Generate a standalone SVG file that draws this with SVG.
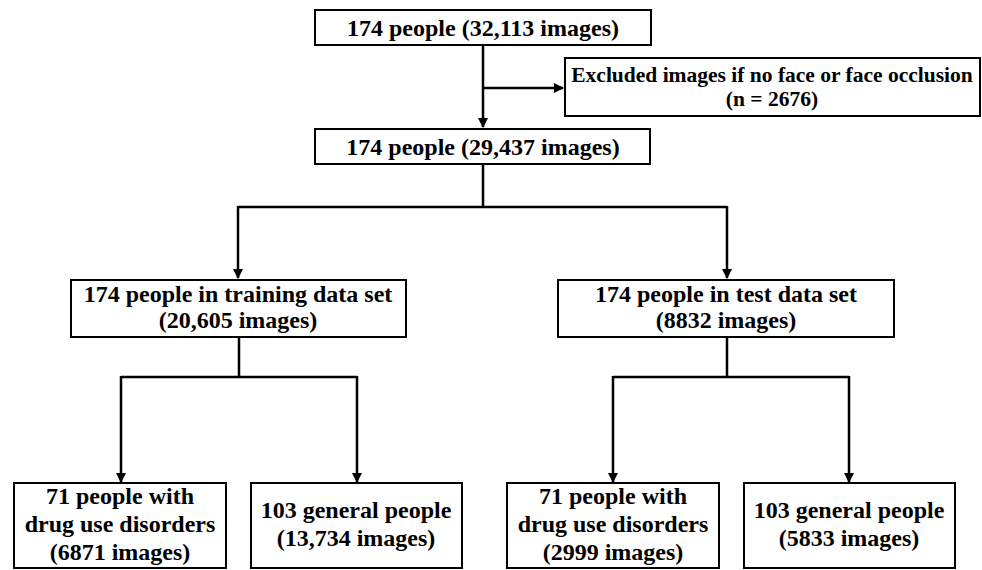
<svg xmlns="http://www.w3.org/2000/svg" width="982" height="570" viewBox="0 0 982 570">
<style>
.box{fill:#fff;stroke:#000;stroke-width:2}
text{font-family:'Liberation Serif','Times New Roman',Times,serif;font-weight:bold;font-size:24px;text-anchor:middle;fill:#000}
text.s{font-size:21.5px}
.c{fill:none;stroke:#000;stroke-width:2.5}
</style>
<defs>
<marker id="ah" markerWidth="10" markerHeight="10" refX="9" refY="5" orient="auto" markerUnits="userSpaceOnUse"><path d="M0,0 L10,5 L0,10 Z" fill="#000"/></marker>
</defs>
<rect width="982" height="570" fill="#fff"/>
<g id="connectors">
<path class="c" d="M483,45 V127" marker-end="url(#ah)"/>
<path class="c" d="M483,88 H563" marker-end="url(#ah)"/>
<path class="c" d="M483,164 V207 M238,207 H727"/>
<path class="c" d="M238,206 V278" marker-end="url(#ah)"/>
<path class="c" d="M727,206 V278" marker-end="url(#ah)"/>
<path class="c" d="M239,337 V377 M121,377 H357"/>
<path class="c" d="M121,376 V482" marker-end="url(#ah)"/>
<path class="c" d="M357,376 V482" marker-end="url(#ah)"/>
<path class="c" d="M727,337 V377 M613,377 H849"/>
<path class="c" d="M613,376 V482" marker-end="url(#ah)"/>
<path class="c" d="M849,376 V482" marker-end="url(#ah)"/>
</g>
<g id="n1"><rect class="box" x="315" y="10" width="336" height="35"/><text x="483" y="36">174 people (32,113 images)</text></g>
<g id="n2"><rect class="box" x="565" y="58" width="415" height="58"/><text class="s" x="772" y="82">Excluded images if no face or face occlusion</text><text class="s" x="772" y="106">(n = 2676)</text></g>
<g id="n3"><rect class="box" x="315" y="129" width="335" height="35"/><text x="483" y="155">174 people (29,437 images)</text></g>
<g id="n4"><rect class="box" x="71" y="280" width="335" height="57"/><text x="238" y="302">174 people in training data set</text><text x="238" y="328">(20,605 images)</text></g>
<g id="n5"><rect class="box" x="558" y="280" width="336" height="57"/><text x="726" y="302">174 people in test data set</text><text x="726" y="328">(8832 images)</text></g>
<g id="n6"><rect class="box" x="14" y="483" width="212" height="85"/><text x="120" y="504">71 people with</text><text x="120" y="532">drug use disorders</text><text x="120" y="560">(6871 images)</text></g>
<g id="n7"><rect class="box" x="251" y="483" width="211" height="85"/><text x="356" y="518">103 general people</text><text x="356" y="546">(13,734 images)</text></g>
<g id="n8"><rect class="box" x="507" y="483" width="212" height="85"/><text x="613" y="504">71 people with</text><text x="613" y="532">drug use disorders</text><text x="613" y="560">(2999 images)</text></g>
<g id="n9"><rect class="box" x="744" y="483" width="211" height="85"/><text x="849" y="518">103 general people</text><text x="849" y="546">(5833 images)</text></g>
</svg>
